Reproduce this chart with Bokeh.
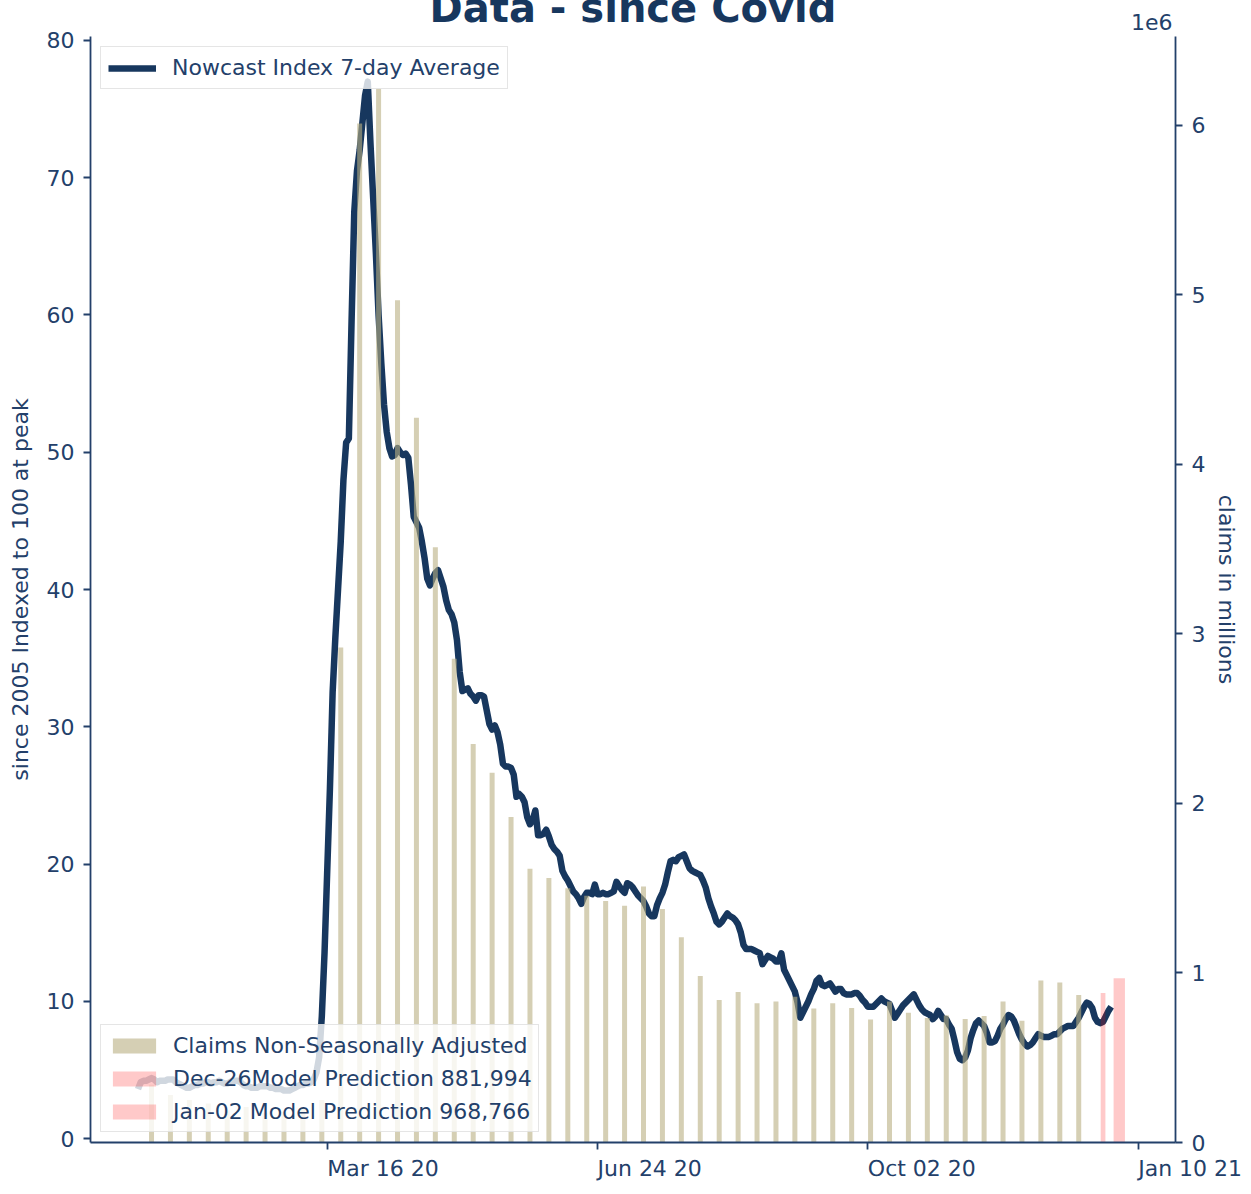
import pandas as pd
from bokeh.plotting import figure
from bokeh.models import (Range1d, LinearAxis, FixedTicker, Legend, Title,
                          LegendItem, CustomJSTickFormatter, DatetimeTickFormatter)
from bokeh.embed import file_html
from bokeh.resources import INLINE

# ---------------- data ----------------
title_text = "Data - since Covid"
left_label = "since 2005 Indexed to 100 at peak"
right_label = "claims in millions"
line_label = "Nowcast Index 7-day Average"
bar_label = "Claims Non-Seasonally Adjusted"

nowcast_start = "2020-01-06"
nowcast_jan = [3.6, 4.1, 4.2, 4.2, 4.3, 4.4, 4.3, 4.1, 4.2, 4.2, 4.2, 4.3, 4.3,
               4.3, 4.1, 4.0, 3.9, 3.8, 3.7, 3.7, 3.8, 3.9, 3.9, 4.0, 4.0, 4.1]
nowcast_feb = [4.1, 4.0, 4.1, 4.1, 4.2, 4.1, 4.0, 4.0, 4.1, 4.2, 4.2, 4.2, 4.1,
               3.9, 3.8, 3.8, 3.7, 3.7, 3.7, 3.8, 3.8, 3.8, 3.8, 3.7, 3.7, 3.6,
               3.6, 3.6, 3.5]
nowcast_mar = [3.5, 3.5, 3.6, 3.7, 3.8, 3.9, 3.9, 4.0, 4.0, 4.1, 4.3, 4.8, 5.9,
               8.9, 13.5, 19.5, 25.5, 32.5, 36.5, 40.0, 43.5, 48.0, 50.7, 51.0,
               59.5, 67.5, 70.5, 72.0, 74.0, 76.0, 77.0]
nowcast_apr = [72.5, 68.5, 64.5, 60.0, 56.5, 53.5, 51.5, 50.3, 49.7, 49.8, 50.3,
               50.0, 49.8, 49.9, 49.6, 47.6, 45.3, 44.9, 44.5, 43.5, 42.3, 40.8,
               40.3, 40.8, 41.2, 41.4, 40.8, 40.2, 39.2, 38.5]
nowcast_may = [38.2, 37.6, 36.3, 34.0, 32.6, 32.7, 32.8, 32.4, 32.2, 31.9, 32.3,
               32.3, 32.2, 31.2, 30.2, 29.8, 30.1, 29.6, 28.7, 27.3, 27.1, 27.1,
               27.0, 26.5, 24.9, 25.1, 24.9, 24.5, 23.4, 22.9, 23.2]
nowcast_jun = [23.9, 22.1, 22.1, 22.2, 22.5, 22.0, 21.4, 21.1, 20.9, 20.6, 19.5,
               19.1, 18.8, 18.4, 18.0, 17.8, 17.5, 17.1, 17.6, 17.9, 17.9, 17.8,
               18.5, 17.8, 17.8, 17.9, 17.8, 17.8, 17.9, 18.0]
nowcast_jul = [18.7, 18.4, 18.1, 17.9, 18.6, 18.5, 18.3, 18.0, 17.7, 17.5, 17.3,
               16.9, 16.4, 16.2, 16.2, 17.0, 17.5, 17.9, 18.5, 19.4, 20.2, 20.3,
               20.2, 20.5, 20.6, 20.7, 20.2, 19.7, 19.5, 19.4, 19.3]
nowcast_aug = [19.2, 18.8, 18.3, 17.5, 16.9, 16.4, 15.8, 15.6, 15.8, 16.1, 16.4,
               16.2, 16.1, 15.9, 15.6, 15.0, 14.1, 13.8, 13.8, 13.8, 13.7, 13.6,
               13.5, 12.7, 13.0, 13.3, 13.2, 13.1, 12.9, 12.9, 13.5]
nowcast_sep = [12.3, 11.9, 11.5, 11.1, 10.7, 9.9, 8.8, 9.2, 9.6, 10.0, 10.5,
               10.9, 11.5, 11.7, 11.2, 11.1, 11.2, 11.3, 11.0, 10.7, 10.9, 10.9,
               10.6, 10.5, 10.5, 10.5, 10.6, 10.6, 10.4, 10.1]
nowcast_oct = [9.9, 9.6, 9.6, 9.6, 9.8, 10.0, 10.2, 10.0, 9.9, 9.8, 9.3, 8.8,
               9.1, 9.4, 9.7, 9.9, 10.1, 10.3, 10.5, 10.1, 9.7, 9.4, 9.2, 9.1,
               9.0, 8.7, 8.9, 9.3, 9.0, 8.7, 8.7]
nowcast_nov = [8.3, 8.0, 7.2, 6.3, 5.8, 5.7, 5.9, 6.4, 7.3, 7.9, 8.4, 8.6, 8.4,
               8.2, 7.7, 7.0, 7.0, 7.1, 7.5, 8.0, 8.3, 8.7, 9.0, 8.9, 8.6, 8.1,
               7.6, 7.2, 6.9, 6.7]
nowcast_dec = [6.8, 7.0, 7.3, 7.6, 7.5, 7.4, 7.4, 7.4, 7.5, 7.6, 7.6, 7.8, 8.0,
               8.1, 8.2, 8.2, 8.2, 8.5, 8.8, 9.2, 9.6, 9.9, 9.8, 9.5, 8.8, 8.5,
               8.4, 8.5, 8.9, 9.3, 9.6]

claims_start = "2020-01-11"   # weekly, week ending Saturday
claims_nsa = [340000, 280000, 250000, 230000, 190000, 210000, 175000, 180000,
              200000, 250000, 2920000, 6010000, 6215000, 4967000, 4275000,
              3510000, 2853000, 2350000, 2180000, 1920000, 1615000, 1560000,
              1500000, 1455000, 1424000, 1396000, 1510000, 1377000, 1210000,
              982000, 840000, 887000, 822000, 832000, 860000, 790000, 822000,
              793000, 726000, 832000, 765000, 734000, 750000, 728000, 746000,
              832000, 718000, 956000, 944000, 870000]

pred_names = ["Dec-26", "Jan-02 "]
pred_dates = ["2020-12-28", "2021-01-03"]
pred_values = [881994, 968766]

xtick_dates = ["2020-03-16", "2020-06-24", "2020-10-02", "2021-01-10"]
left_ticks = [0, 10, 20, 30, 40, 50, 60, 70, 80]
right_ticks = [0, 1000000, 2000000, 3000000, 4000000, 5000000, 6000000]
right_offset_text = "1e6"

# ---------------- style ----------------
FONT = "DejaVu Sans"
NAVY = "#17375e"
AXC = "#23406a"
TAN = "#b9af82"
FS = "22px"
DAY = 86400000.0
FW, FH = 1085, 1106
SHIFT = 40          # canvas is pulled up so the title is cut at the page top

nowcast_values = (nowcast_jan + nowcast_feb + nowcast_mar + nowcast_apr +
                  nowcast_may + nowcast_jun + nowcast_jul + nowcast_aug +
                  nowcast_sep + nowcast_oct + nowcast_nov + nowcast_dec)
nowcast_dates = pd.date_range(nowcast_start, periods=len(nowcast_values), freq="D")
claims_dates = pd.date_range(claims_start, periods=len(claims_nsa), freq="7D")

ref = pd.Timestamp("2020-03-16")
x0 = ref - pd.Timedelta(days=87.57)
x1 = ref + pd.Timedelta(days=313.8)

p = figure(x_axis_type="datetime", frame_width=FW, frame_height=FH,
           x_range=Range1d(x0, x1), y_range=Range1d(-0.29, 80.29),
           output_backend="svg", toolbar_location=None, title=title_text,
           min_border_left=90, min_border_right=76, min_border_top=36 + SHIFT,
           min_border_bottom=46)
p.styles = {"margin-top": f"-{SHIFT}px"}
p.extra_y_ranges = {"claims": Range1d(0, 6.523e6)}
p.grid.visible = False
p.outline_line_color = None
p.background_fill_color = "white"
p.border_fill_color = "white"

# main title (outer slot; partly cut at the page top, as in the reference)
p.title.align = "center"
p.title.vertical_align = "bottom"
p.title.standoff = -50
p.title.text_font = FONT
p.title.text_font_size = "40px"
p.title.text_font_style = "bold"
p.title.text_color = NAVY

# "1e6" offset text (slot closest to the frame)
p.add_layout(Title(text=right_offset_text, align="right", offset=3,
                   vertical_align="bottom", standoff=12.6, text_font=FONT,
                   text_font_size=FS, text_font_style="normal",
                   text_color=AXC), "above")

r_line = p.line(x=nowcast_dates, y=nowcast_values, line_width=6.5, line_color=NAVY,
                line_join="round")
r_bars = p.vbar(x=claims_dates, top=claims_nsa, bottom=0, width=1.85 * DAY,
                y_range_name="claims", fill_color=TAN, fill_alpha=0.6,
                line_color=None)
pred_widths = [1.75 * DAY, 4.2 * DAY]
r_preds = []
for d, v, w in zip(pred_dates, pred_values, pred_widths):
    r_preds.append(p.vbar(x=[pd.Timestamp(d)], top=[v], bottom=0, width=w,
                          y_range_name="claims", fill_color="red",
                          fill_alpha=0.21, line_color=None))

raxis = LinearAxis(y_range_name="claims", ticker=FixedTicker(ticks=right_ticks),
                   formatter=CustomJSTickFormatter(code="return (tick/1e6).toFixed(0);"))
p.add_layout(raxis, "right")

p.yaxis[0].ticker = FixedTicker(ticks=left_ticks)
xax = p.xaxis[0]
xax.ticker = FixedTicker(ticks=[pd.Timestamp(d).value / 1e6 for d in xtick_dates])
fmt = "%b %d %y"
xax.formatter = DatetimeTickFormatter(days=fmt, months=fmt, years=fmt,
                                      hours=fmt, hourmin=fmt)

for ax in [p.yaxis[0], raxis, xax]:
    ax.axis_line_color = AXC
    ax.axis_line_width = 1.8
    ax.major_tick_line_color = AXC
    ax.major_tick_line_width = 1.8
    ax.major_tick_out = 7
    ax.major_tick_in = 0
    ax.minor_tick_line_color = None
    ax.major_label_text_font = FONT
    ax.major_label_text_font_size = FS
    ax.major_label_text_color = AXC
    ax.major_label_standoff = 9
    ax.axis_label_text_font = FONT
    ax.axis_label_text_font_size = FS
    ax.axis_label_text_font_style = "normal"
    ax.axis_label_text_color = AXC

# x tick labels start at their ticks (left aligned)
xax.major_label_orientation = -0.001
xax.major_label_standoff = 19

p.yaxis[0].axis_label = left_label
p.yaxis[0].axis_label_standoff = 11

raxis.axis_label = right_label
raxis.axis_label_standoff = 6

leg1 = Legend(items=[LegendItem(label=line_label, renderers=[r_line])],
              location="top_left", margin=10, padding=7, spacing=0,
              glyph_width=48, glyph_height=20, label_standoff=16,
              label_height=27, label_text_font=FONT, label_text_font_size=FS,
              label_text_color=AXC, border_line_color="#cccccc",
              border_line_width=1.2, background_fill_color="white",
              background_fill_alpha=0.8)
p.add_layout(leg1)

items2 = [LegendItem(label=bar_label, renderers=[r_bars])]
for n, v, r in zip(pred_names, pred_values, r_preds):
    items2.append(LegendItem(label=f"{n}Model Prediction {v:,}", renderers=[r]))
leg2 = Legend(items=items2, location="bottom_left", margin=10, padding=6,
              spacing=5, glyph_width=54, glyph_height=19, label_standoff=12,
              label_height=28, label_text_font=FONT, label_text_font_size=FS,
              label_text_color=AXC, border_line_color="#cccccc",
              border_line_width=1.2, background_fill_color="white",
              background_fill_alpha=0.8)
p.add_layout(leg2)

open("out.html", "w").write(file_html(p, INLINE))
